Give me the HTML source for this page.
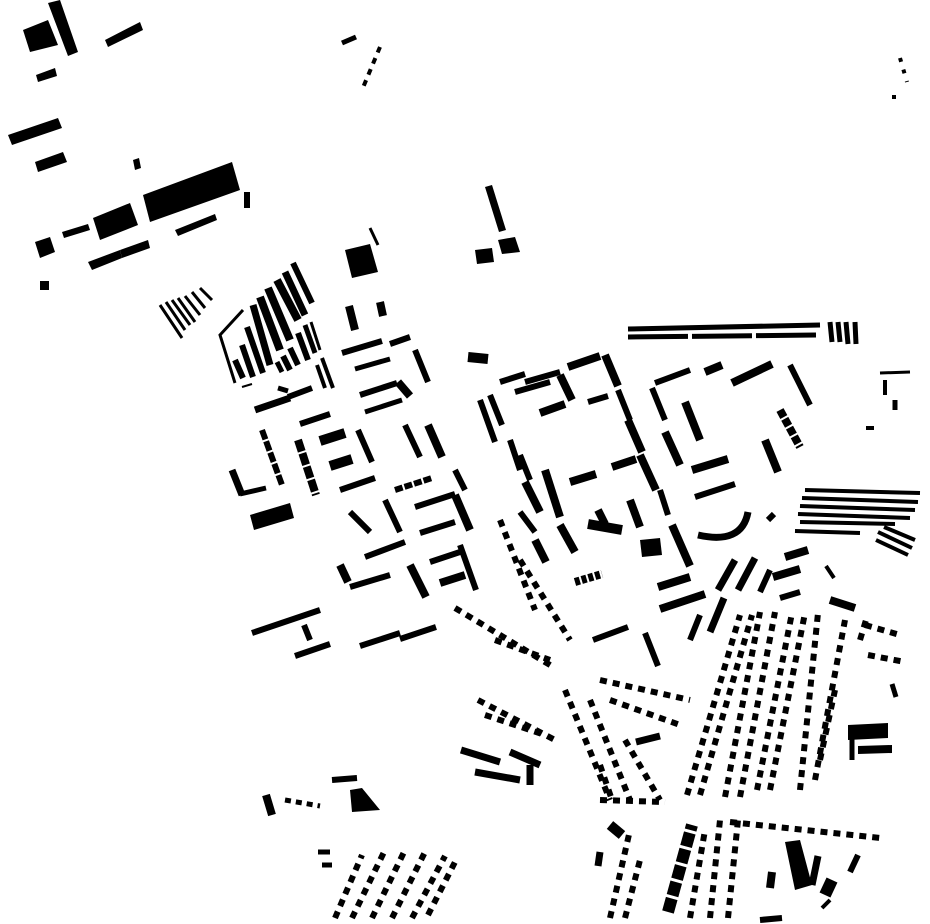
<!DOCTYPE html>
<html><head><meta charset="utf-8"><style>html,body{margin:0;padding:0;background:#fff}svg{display:block}</style></head>
<body>
<svg width="930" height="924" viewBox="0 0 930 924" xmlns="http://www.w3.org/2000/svg">
<g fill="#000">
<polygon points="23,30 48,20 58,45 30,52"/>
<polygon points="48,3 60,0 78,52 68,56"/>
<polygon points="105,40 140,22 143,30 108,47"/>
<polygon points="36,75 55,68 57,76 38,82"/>
<polygon points="8,135 58,118 62,128 12,145"/>
<polygon points="35,162 63,152 67,162 38,172"/>
<polygon points="133,160 139,158 141,168 135,170"/>
<polygon points="143,195 232,162 240,190 150,222"/>
<polygon points="93,218 130,203 138,225 100,240"/>
<polygon points="62,232 88,224 90,230 64,238"/>
<polygon points="35,242 50,237 55,252 40,258"/>
<polygon points="88,262 120,250 122,258 92,270"/>
<polygon points="120,250 148,240 150,248 122,258"/>
<polygon points="175,230 215,214 217,220 178,236"/>
<rect x="244" y="192" width="6" height="16"/>
<rect x="40" y="281" width="9" height="9"/>
<polygon points="345,250 370,244 378,272 352,278"/>
<polygon points="475,250 492,248 494,262 477,264"/>
<polygon points="498,240 515,237 520,252 502,254"/>
<polygon points="485,187 492,185 506,230 499,232"/>
<polygon points="250,515 290,503 294,518 254,530"/>
<polygon points="640,540 660,538 662,555 642,557"/>
<polygon points="848,725 888,723 888,738 848,740"/>
<polygon points="858,746 892,745 892,753 858,754"/>
<polygon points="785,842 800,840 812,885 795,890"/>
<polygon points="350,790 362,788 380,810 352,812"/>
</g>
<g stroke="#000" fill="none" stroke-linecap="butt">
<line x1="342" y1="43" x2="356" y2="37" stroke-width="5"/>
<line x1="380" y1="47" x2="362" y2="90" stroke-width="4" stroke-dasharray="6 6"/>
<line x1="900" y1="58" x2="907" y2="82" stroke-width="4" stroke-dasharray="4 8"/>
<rect x="892" y="95" width="4" height="4" fill="#000" stroke="none"/>
<line x1="370" y1="228" x2="378" y2="245" stroke-width="3"/>
<!-- striped area -->
<g stroke-width="6">
<line x1="235" y1="360" x2="243" y2="378"/>
<line x1="242" y1="345" x2="253" y2="377"/>
<line x1="247" y1="327" x2="263" y2="373"/>
<line x1="253" y1="305" x2="270" y2="365" stroke-width="7"/>
<line x1="260" y1="297" x2="280" y2="350" stroke-width="8"/>
<line x1="268" y1="288" x2="290" y2="340" stroke-width="8"/>
<line x1="277" y1="280" x2="298" y2="320" stroke-width="8"/>
<line x1="285" y1="272" x2="305" y2="315" stroke-width="7"/>
<line x1="293" y1="263" x2="312" y2="303" stroke-width="6"/>
<line x1="277" y1="362" x2="282" y2="372" stroke-width="5"/>
<line x1="283" y1="356" x2="290" y2="370" stroke-width="6"/>
<line x1="290" y1="348" x2="298" y2="365" stroke-width="6"/>
<line x1="298" y1="333" x2="308" y2="360" stroke-width="6"/>
<line x1="305" y1="325" x2="315" y2="353" stroke-width="5"/>
<line x1="311" y1="322" x2="320" y2="350" stroke-width="3"/>
<line x1="322" y1="358" x2="333" y2="388" stroke-width="4"/>
<line x1="317" y1="365" x2="325" y2="388" stroke-width="4"/>
<line x1="278" y1="388" x2="288" y2="391" stroke-width="5"/>
<line x1="288" y1="397" x2="312" y2="388" stroke-width="6"/>
</g>
<polyline points="243,310 220,335 235,383" stroke-width="3"/>
<line x1="242" y1="387" x2="252" y2="384" stroke-width="2"/>
<g stroke-width="3">
<line x1="160" y1="305" x2="182" y2="338"/>
<line x1="166" y1="302" x2="185" y2="330"/>
<line x1="172" y1="300" x2="190" y2="325"/>
<line x1="178" y1="298" x2="195" y2="322"/>
<line x1="185" y1="296" x2="200" y2="315"/>
<line x1="192" y1="292" x2="205" y2="308"/>
<line x1="200" y1="288" x2="212" y2="300"/>
</g>
<line x1="628" y1="329" x2="820" y2="325" stroke-width="5"/>
<line x1="628" y1="337" x2="820" y2="335" stroke-width="5" stroke-dasharray="60 4"/>
<g stroke-width="5"><line x1="830" y1="322" x2="832" y2="342"/><line x1="838" y1="322" x2="840" y2="342"/><line x1="846" y1="322" x2="848" y2="344"/><line x1="855" y1="322" x2="856" y2="344"/></g>
<g stroke-width="4">
<line x1="805" y1="490" x2="920" y2="493"/>
<line x1="802" y1="498" x2="918" y2="502"/>
<line x1="800" y1="506" x2="915" y2="510"/>
<line x1="798" y1="514" x2="910" y2="518"/>
<line x1="800" y1="522" x2="895" y2="524"/>
<line x1="795" y1="531" x2="860" y2="533"/>
<line x1="878" y1="532" x2="912" y2="548"/>
<line x1="876" y1="540" x2="908" y2="555"/>
<line x1="884" y1="527" x2="915" y2="540"/>
</g>
<g stroke-width="7">
<line x1="232" y1="470" x2="242" y2="495"/>
<line x1="240" y1="494" x2="266" y2="488" stroke-width="5"/>
<line x1="262" y1="430" x2="282" y2="485" stroke-width="6" stroke-dasharray="10 2"/>
<line x1="298" y1="440" x2="316" y2="495" stroke-width="8" stroke-dasharray="12 2"/>
<line x1="320" y1="441" x2="345" y2="433" stroke-width="10"/>
<line x1="330" y1="466" x2="352" y2="459" stroke-width="10"/>
<line x1="340" y1="490" x2="375" y2="478" stroke-width="6"/>
<line x1="358" y1="430" x2="372" y2="462" stroke-width="6"/>
<line x1="300" y1="424" x2="330" y2="414" stroke-width="6"/>
<line x1="255" y1="410" x2="290" y2="398" stroke-width="7"/>
<line x1="342" y1="353" x2="382" y2="341" stroke-width="6"/>
<line x1="355" y1="369" x2="390" y2="359" stroke-width="5"/>
<line x1="360" y1="395" x2="397" y2="383" stroke-width="6"/>
<line x1="365" y1="412" x2="402" y2="400" stroke-width="5"/>
<line x1="390" y1="344" x2="410" y2="337" stroke-width="6"/>
<line x1="415" y1="350" x2="428" y2="382" stroke-width="6"/>
<line x1="398" y1="382" x2="410" y2="396" stroke-width="8"/>
<line x1="405" y1="425" x2="420" y2="457" stroke-width="6"/>
<line x1="428" y1="425" x2="442" y2="457" stroke-width="8"/>
<line x1="395" y1="490" x2="432" y2="478" stroke-width="6" stroke-dasharray="8 2"/>
<line x1="385" y1="500" x2="400" y2="532" stroke-width="6"/>
<line x1="415" y1="507" x2="455" y2="494" stroke-width="6"/>
<line x1="455" y1="495" x2="470" y2="530" stroke-width="8"/>
<line x1="420" y1="533" x2="455" y2="522" stroke-width="6"/>
<line x1="350" y1="512" x2="370" y2="532" stroke-width="6"/>
<line x1="365" y1="557" x2="405" y2="542" stroke-width="6"/>
<line x1="340" y1="565" x2="348" y2="582" stroke-width="8"/>
<line x1="350" y1="587" x2="390" y2="575" stroke-width="6"/>
<line x1="410" y1="565" x2="426" y2="597" stroke-width="8"/>
<line x1="440" y1="583" x2="465" y2="575" stroke-width="8"/>
<line x1="460" y1="545" x2="476" y2="590" stroke-width="6"/>
<line x1="430" y1="562" x2="460" y2="552" stroke-width="6"/>
<line x1="252" y1="633" x2="320" y2="610" stroke-width="6"/>
<line x1="295" y1="656" x2="330" y2="644" stroke-width="6"/>
<line x1="304" y1="625" x2="310" y2="640" stroke-width="6"/>
<line x1="360" y1="646" x2="400" y2="633" stroke-width="6"/>
<line x1="400" y1="639" x2="436" y2="627" stroke-width="6"/>
<line x1="455" y1="470" x2="465" y2="490" stroke-width="6"/>
<line x1="380" y1="302" x2="383" y2="316" stroke-width="8"/>
<line x1="349" y1="306" x2="355" y2="330" stroke-width="8"/>
<line x1="468" y1="357" x2="488" y2="359" stroke-width="10"/>
</g>
<g stroke-width="7">
<line x1="480" y1="400" x2="495" y2="442" stroke-width="6"/>
<line x1="490" y1="395" x2="502" y2="425" stroke-width="6"/>
<line x1="500" y1="382" x2="525" y2="374" stroke-width="6"/>
<line x1="515" y1="392" x2="550" y2="382" stroke-width="6"/>
<line x1="525" y1="382" x2="560" y2="372" stroke-width="6"/>
<line x1="560" y1="375" x2="572" y2="400" stroke-width="8"/>
<line x1="568" y1="367" x2="600" y2="356" stroke-width="8"/>
<line x1="605" y1="355" x2="618" y2="386" stroke-width="8"/>
<line x1="540" y1="413" x2="565" y2="404" stroke-width="8"/>
<line x1="588" y1="402" x2="608" y2="396" stroke-width="6"/>
<line x1="618" y1="390" x2="630" y2="420" stroke-width="6"/>
<line x1="628" y1="420" x2="642" y2="452" stroke-width="8"/>
<line x1="510" y1="440" x2="520" y2="470" stroke-width="6"/>
<line x1="520" y1="455" x2="530" y2="480" stroke-width="6"/>
<line x1="525" y1="482" x2="540" y2="512" stroke-width="8"/>
<line x1="545" y1="470" x2="560" y2="517" stroke-width="8"/>
<line x1="570" y1="482" x2="596" y2="474" stroke-width="8"/>
<line x1="612" y1="467" x2="636" y2="459" stroke-width="8"/>
<line x1="640" y1="455" x2="656" y2="490" stroke-width="8"/>
<line x1="630" y1="500" x2="640" y2="527" stroke-width="8"/>
<line x1="660" y1="490" x2="668" y2="515" stroke-width="6"/>
<line x1="520" y1="512" x2="535" y2="532" stroke-width="6"/>
<line x1="535" y1="540" x2="546" y2="562" stroke-width="8"/>
<line x1="560" y1="525" x2="575" y2="552" stroke-width="8"/>
<line x1="588" y1="524" x2="622" y2="530" stroke-width="10"/>
<line x1="598" y1="510" x2="605" y2="524" stroke-width="8"/>
<line x1="672" y1="525" x2="690" y2="566" stroke-width="8"/>
<line x1="575" y1="582" x2="602" y2="574" stroke-width="8" stroke-dasharray="5 2"/>
<line x1="658" y1="587" x2="690" y2="577" stroke-width="8"/>
<line x1="660" y1="609" x2="705" y2="594" stroke-width="8"/>
<line x1="593" y1="640" x2="628" y2="627" stroke-width="6"/>
<line x1="645" y1="633" x2="658" y2="666" stroke-width="6"/>
<line x1="655" y1="383" x2="690" y2="370" stroke-width="6"/>
<line x1="652" y1="388" x2="665" y2="420" stroke-width="6"/>
<line x1="665" y1="432" x2="680" y2="465" stroke-width="8"/>
<line x1="685" y1="402" x2="700" y2="440" stroke-width="8"/>
<line x1="705" y1="372" x2="722" y2="365" stroke-width="8"/>
<line x1="732" y1="383" x2="772" y2="364" stroke-width="8"/>
<line x1="790" y1="365" x2="810" y2="405" stroke-width="6"/>
<line x1="780" y1="410" x2="800" y2="447" stroke-width="8" stroke-dasharray="8 2"/>
<line x1="765" y1="440" x2="778" y2="472" stroke-width="8"/>
<line x1="692" y1="470" x2="728" y2="459" stroke-width="8"/>
<line x1="695" y1="497" x2="735" y2="484" stroke-width="6"/>
<path d="M698 535 Q742 545 748 512" stroke-width="7"/>
<line x1="768" y1="520" x2="774" y2="514" stroke-width="6"/>
<line x1="718" y1="590" x2="735" y2="560" stroke-width="7"/>
<line x1="738" y1="590" x2="755" y2="558" stroke-width="7"/>
<line x1="760" y1="592" x2="770" y2="570" stroke-width="6"/>
<line x1="785" y1="557" x2="808" y2="550" stroke-width="8"/>
<line x1="773" y1="577" x2="800" y2="569" stroke-width="8"/>
<line x1="780" y1="598" x2="800" y2="592" stroke-width="6"/>
<line x1="830" y1="600" x2="855" y2="608" stroke-width="8"/>
<line x1="826" y1="566" x2="834" y2="578" stroke-width="4"/>
<line x1="710" y1="632" x2="724" y2="598" stroke-width="7"/>
<line x1="690" y1="640" x2="700" y2="615" stroke-width="6"/>
</g>
<g stroke-width="6" stroke-dasharray="7 6">
<line x1="687" y1="795" x2="740" y2="615"/>
<line x1="700" y1="795" x2="752" y2="615"/>
<line x1="725" y1="797" x2="760" y2="612"/>
<line x1="740" y1="797" x2="775" y2="612"/>
<line x1="757" y1="790" x2="792" y2="613"/>
<line x1="770" y1="790" x2="805" y2="613"/>
<line x1="800" y1="790" x2="818" y2="613"/>
<line x1="815" y1="780" x2="845" y2="620"/>
<line x1="820" y1="760" x2="835" y2="690"/>
<line x1="865" y1="625" x2="900" y2="635"/>
<line x1="868" y1="655" x2="905" y2="662"/>
<line x1="600" y1="680" x2="690" y2="700"/>
<line x1="610" y1="700" x2="680" y2="725"/>
<line x1="565" y1="690" x2="610" y2="800"/>
<line x1="590" y1="700" x2="630" y2="800"/>
<line x1="455" y1="608" x2="555" y2="668"/>
<line x1="495" y1="640" x2="550" y2="660"/>
<line x1="478" y1="700" x2="555" y2="740"/>
<line x1="485" y1="715" x2="545" y2="735"/>
<line x1="520" y1="560" x2="570" y2="640"/>
<line x1="500" y1="520" x2="535" y2="610"/>
<line x1="600" y1="765" x2="612" y2="800"/>
<line x1="625" y1="740" x2="660" y2="800"/>
<line x1="600" y1="800" x2="665" y2="802"/>
<line x1="335" y1="918" x2="362" y2="855"/>
<line x1="352" y1="918" x2="385" y2="850"/>
<line x1="372" y1="918" x2="405" y2="850"/>
<line x1="392" y1="918" x2="425" y2="852"/>
<line x1="412" y1="918" x2="445" y2="856"/>
<line x1="428" y1="915" x2="455" y2="862"/>
<line x1="610" y1="918" x2="630" y2="830"/>
<line x1="625" y1="918" x2="640" y2="860"/>
<line x1="690" y1="918" x2="705" y2="830"/>
<line x1="710" y1="918" x2="720" y2="820"/>
<line x1="728" y1="918" x2="738" y2="820"/>
<line x1="730" y1="822" x2="880" y2="838"/>
<line x1="860" y1="640" x2="866" y2="620"/>
</g>
<line x1="668" y1="912" x2="692" y2="825" stroke-width="12" stroke-dasharray="14 3"/>
<g stroke-width="7">
<line x1="461" y1="750" x2="500" y2="762"/>
<line x1="475" y1="772" x2="520" y2="780"/>
<line x1="510" y1="752" x2="540" y2="765"/>
<line x1="530" y1="765" x2="530" y2="785"/>
<line x1="636" y1="742" x2="660" y2="736"/>
<line x1="600" y1="852" x2="598" y2="866"/>
<line x1="610" y1="825" x2="622" y2="835" stroke-width="10"/>
<line x1="266" y1="795" x2="272" y2="815" stroke-width="8"/>
<line x1="285" y1="800" x2="320" y2="806" stroke-width="5" stroke-dasharray="6 5"/>
<line x1="332" y1="780" x2="357" y2="778" stroke-width="6"/>
<line x1="318" y1="852" x2="330" y2="852" stroke-width="5"/>
<line x1="322" y1="865" x2="332" y2="865" stroke-width="5"/>
<line x1="772" y1="872" x2="770" y2="888" stroke-width="8"/>
<line x1="818" y1="856" x2="812" y2="885" stroke-width="7"/>
<line x1="832" y1="880" x2="825" y2="895" stroke-width="12"/>
<line x1="858" y1="855" x2="850" y2="872" stroke-width="6"/>
<line x1="822" y1="908" x2="830" y2="900" stroke-width="4"/>
<line x1="760" y1="920" x2="782" y2="918" stroke-width="6"/>
<line x1="852" y1="725" x2="852" y2="760" stroke-width="5"/>
<line x1="892" y1="684" x2="896" y2="697" stroke-width="5"/>
<line x1="880" y1="373" x2="910" y2="372" stroke-width="3"/>
<line x1="885" y1="380" x2="885" y2="395" stroke-width="4"/>
<line x1="895" y1="400" x2="895" y2="410" stroke-width="5"/>
<line x1="866" y1="428" x2="874" y2="428" stroke-width="4"/>
</g>
</g>
</svg>
</body></html>
